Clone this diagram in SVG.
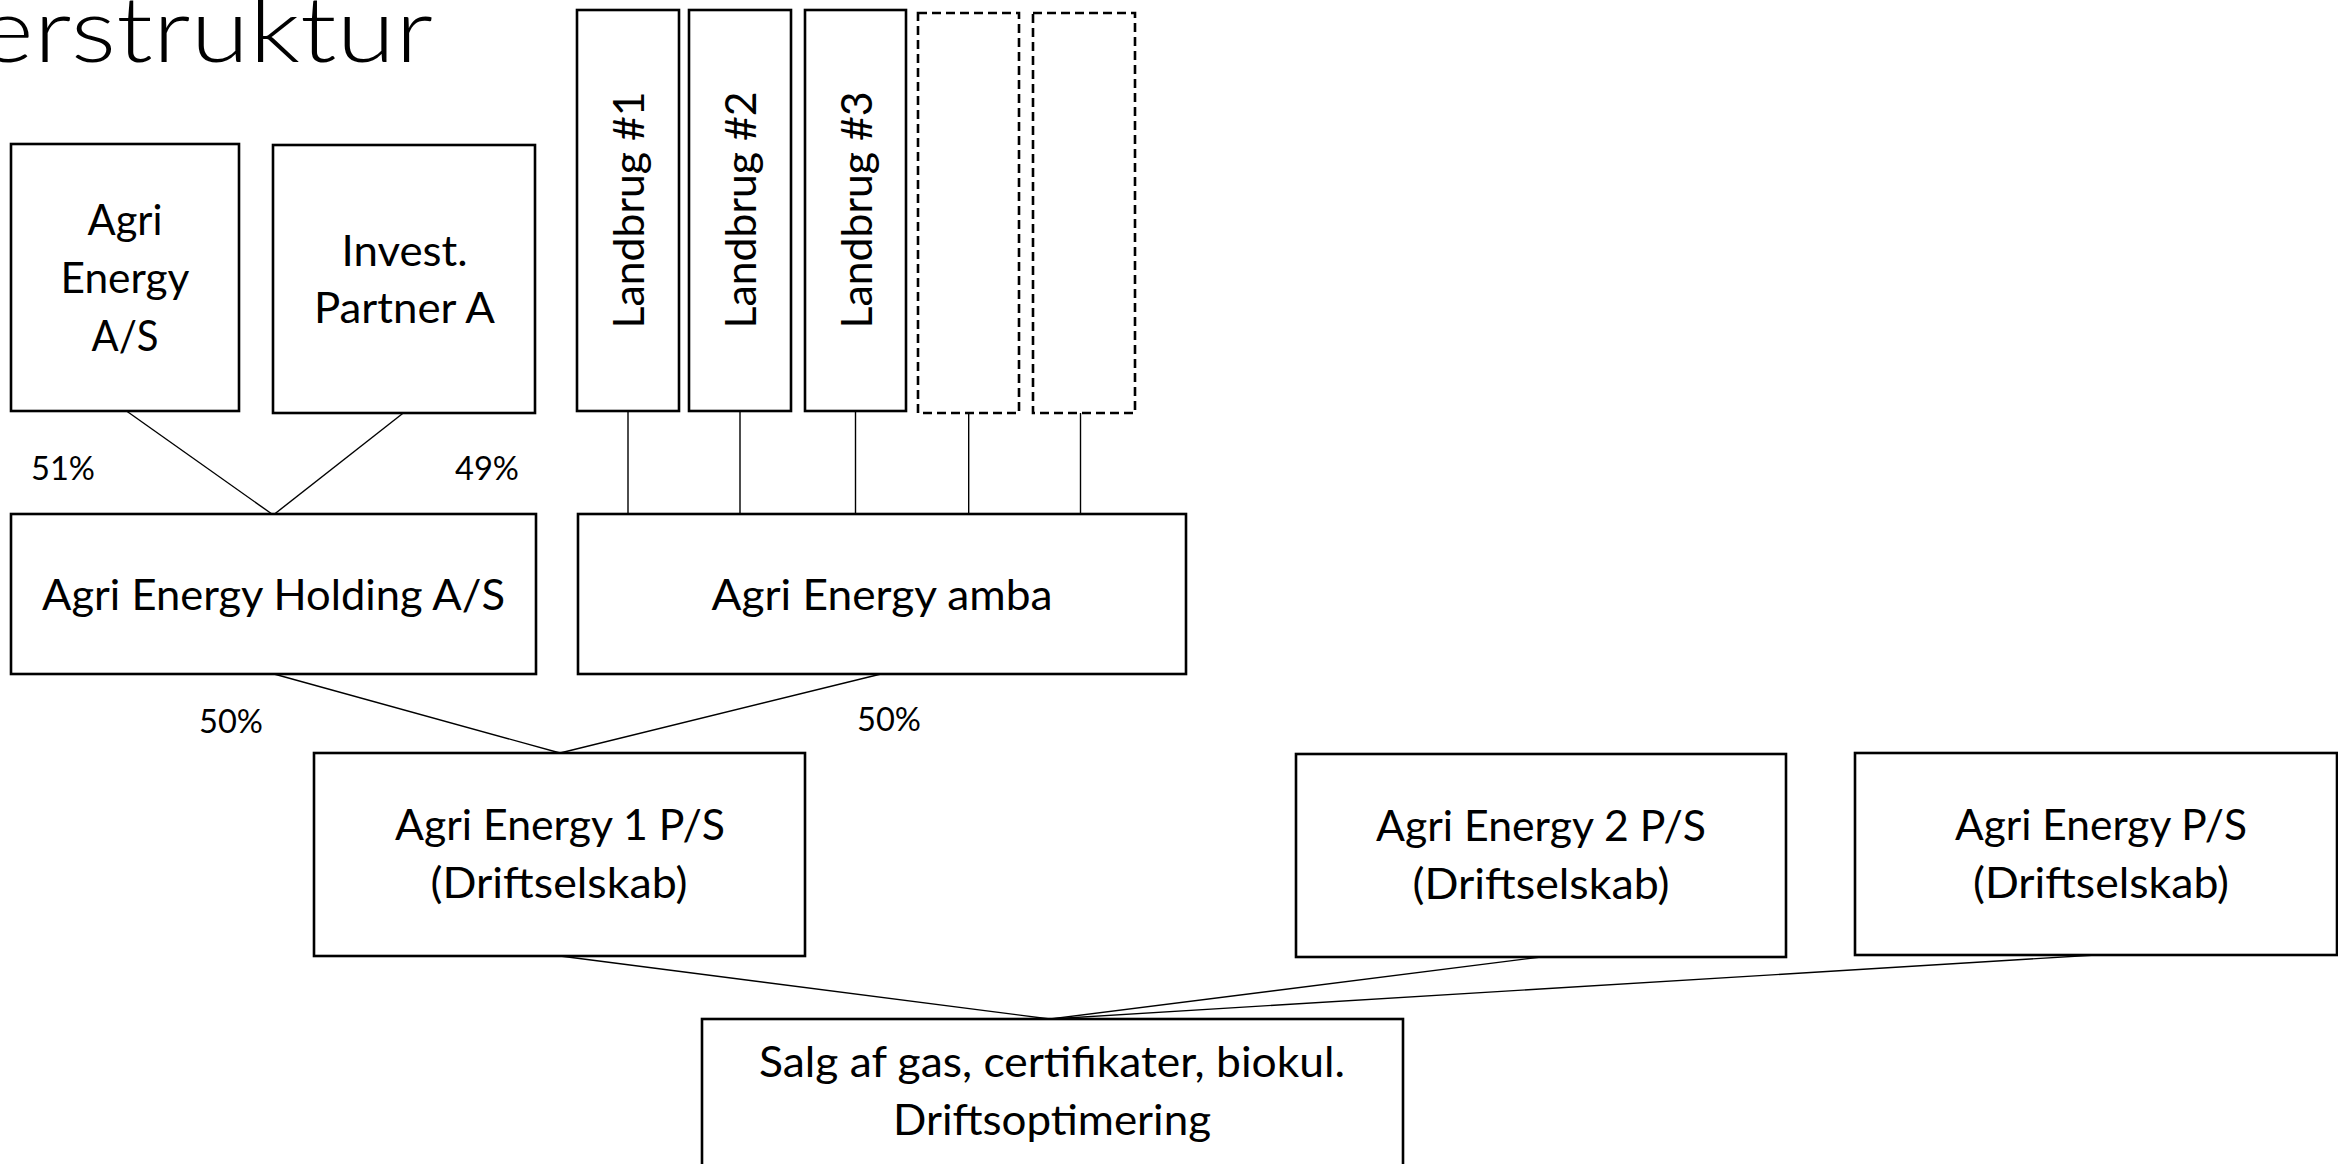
<svg xmlns="http://www.w3.org/2000/svg" width="2338" height="1164" viewBox="0 0 2338 1164">
<style>
.box{fill:#fff;stroke:#000;stroke-width:2.6}
.dash{fill:#fff;stroke:#000;stroke-width:2.6;stroke-dasharray:9 5}
.t{font-family:Lato,"Liberation Sans",sans-serif;font-size:43px;fill:#000;text-anchor:middle}
.p{font-family:Lato,"Liberation Sans",sans-serif;font-size:32px;fill:#000}
.title{font-family:Lato,"Liberation Sans",sans-serif;font-size:90px;font-weight:300;fill:#000}
.c{stroke:#000;stroke-width:1.4;fill:none}
</style>
<rect width="2338" height="1164" fill="#fff"/>
<text class="title" x="-22" y="62" textLength="455" lengthAdjust="spacingAndGlyphs">erstruktur</text>

<g id="connectors">
<line class="c" x1="126.5" y1="411" x2="273.3" y2="515"/>
<line class="c" x1="403.3" y1="413" x2="273.3" y2="515"/>
<line class="c" x1="628" y1="411" x2="628" y2="514"/>
<line class="c" x1="740" y1="411" x2="740" y2="514"/>
<line class="c" x1="855.5" y1="411" x2="855.5" y2="514"/>
<line class="c" x1="968.7" y1="413" x2="968.7" y2="514"/>
<line class="c" x1="1080.5" y1="413" x2="1080.5" y2="514"/>
<line class="c" x1="274" y1="674" x2="560" y2="753"/>
<line class="c" x1="881" y1="674" x2="560" y2="753"/>
<line class="c" x1="560" y1="956" x2="1050" y2="1019"/>
<line class="c" x1="1541" y1="957" x2="1050" y2="1019"/>
<line class="c" x1="2096" y1="955" x2="1050" y2="1019"/>
</g>

<g id="agri-energy-as">
<rect class="box" x="11" y="144" width="228" height="267"/>
<text class="t" x="125" y="235" textLength="75" lengthAdjust="spacingAndGlyphs">Agri</text>
<text class="t" x="125" y="293" textLength="129" lengthAdjust="spacingAndGlyphs">Energy</text>
<text class="t" x="125" y="351" textLength="67" lengthAdjust="spacingAndGlyphs">A/S</text>
</g>
<g id="invest-partner">
<rect class="box" x="273" y="145" width="262" height="268"/>
<text class="t" x="404.5" y="266" textLength="126" lengthAdjust="spacingAndGlyphs">Invest.</text>
<text class="t" x="404.5" y="323" textLength="181" lengthAdjust="spacingAndGlyphs">Partner A</text>
</g>
<g id="landbrug1">
<rect class="box" x="577" y="10" width="102" height="401"/>
<text class="t" transform="translate(644,210) rotate(-90)" textLength="237" lengthAdjust="spacingAndGlyphs">Landbrug #1</text>
</g>
<g id="landbrug2">
<rect class="box" x="689" y="10" width="102" height="401"/>
<text class="t" transform="translate(756,210) rotate(-90)" textLength="237" lengthAdjust="spacingAndGlyphs">Landbrug #2</text>
</g>
<g id="landbrug3">
<rect class="box" x="805" y="10" width="101" height="401"/>
<text class="t" transform="translate(872,210) rotate(-90)" textLength="237" lengthAdjust="spacingAndGlyphs">Landbrug #3</text>
</g>
<g id="landbrug4">
<rect class="dash" x="918" y="13" width="101" height="400"/>
</g>
<g id="landbrug5">
<rect class="dash" x="1033" y="13" width="102" height="400"/>
</g>

<g id="holding">
<rect class="box" x="11" y="514" width="525" height="160"/>
<text class="t" x="273.5" y="610" textLength="463" lengthAdjust="spacingAndGlyphs">Agri Energy Holding A/S</text>
</g>
<g id="amba">
<rect class="box" x="578" y="514" width="608" height="160"/>
<text class="t" x="882" y="610" textLength="341" lengthAdjust="spacingAndGlyphs">Agri Energy amba</text>
</g>

<g id="labels">
<text class="p" x="31" y="480" textLength="64" lengthAdjust="spacingAndGlyphs">51%</text>
<text class="p" x="455" y="480" textLength="64" lengthAdjust="spacingAndGlyphs">49%</text>
<text class="p" x="199" y="733" textLength="64" lengthAdjust="spacingAndGlyphs">50%</text>
<text class="p" x="857" y="731" textLength="64" lengthAdjust="spacingAndGlyphs">50%</text>
</g>

<g id="agri1">
<rect class="box" x="314" y="753" width="491" height="203"/>
<text class="t" x="560" y="840" textLength="330" lengthAdjust="spacingAndGlyphs">Agri Energy 1 P/S</text>
<text class="t" x="559" y="898" textLength="257" lengthAdjust="spacingAndGlyphs">(Driftselskab)</text>
</g>
<g id="agri2">
<rect class="box" x="1296" y="754" width="490" height="203"/>
<text class="t" x="1541" y="841" textLength="330" lengthAdjust="spacingAndGlyphs">Agri Energy 2 P/S</text>
<text class="t" x="1541" y="899" textLength="257" lengthAdjust="spacingAndGlyphs">(Driftselskab)</text>
</g>
<g id="agri-ps">
<rect class="box" x="1855" y="753" width="482" height="202"/>
<text class="t" x="2101" y="840" textLength="292" lengthAdjust="spacingAndGlyphs">Agri Energy P/S</text>
<text class="t" x="2101" y="898" textLength="256" lengthAdjust="spacingAndGlyphs">(Driftselskab)</text>
</g>

<g id="salg">
<rect class="box" x="702" y="1019" width="701" height="200"/>
<text class="t" x="1052" y="1077" textLength="586" lengthAdjust="spacingAndGlyphs">Salg af gas, certifikater, biokul.</text>
<text class="t" x="1052" y="1135" textLength="318" lengthAdjust="spacingAndGlyphs">Driftsoptimering</text>
</g>
</svg>
